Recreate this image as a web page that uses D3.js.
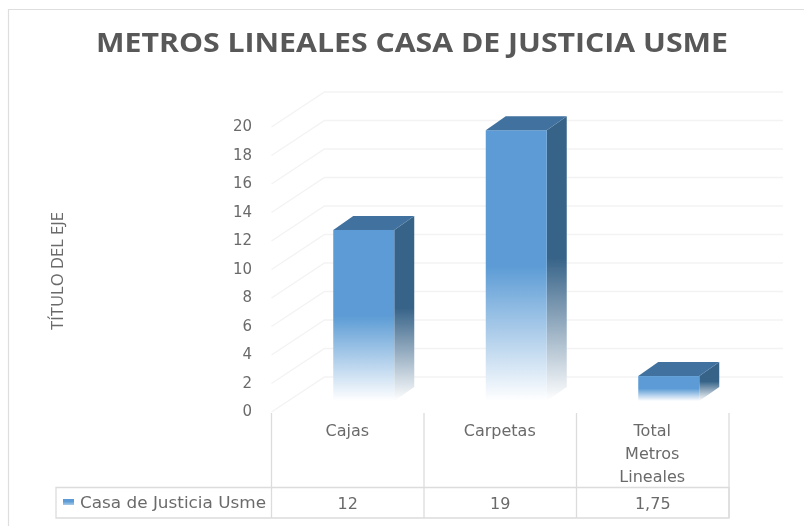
<!DOCTYPE html>
<html><head><meta charset="utf-8">
<script src="https://cdn.jsdelivr.net/npm/d3@7"></script>
<style>html,body{margin:0;background:#fff}svg{display:block}</style>
</head><body><svg id="c" width="804" height="526"></svg>
<script>
const chartTitle = "METROS LINEALES CASA DE JUSTICIA USME";
const axisTitle = "TÍTULO DEL EJE";
const seriesName = "Casa de Justicia Usme";
const categories = ["Cajas", "Carpetas", "Total Metros Lineales"];
const categoryLines = [["Cajas"], ["Carpetas"], ["Total", "Metros", "Lineales"]];
const values = [12, 19, 1.75];
const valueLabels = ["12", "19", "1,75"];
const yTicks = [0, 2, 4, 6, 8, 10, 12, 14, 16, 18, 20];

const svg = d3.select("#c");
const grey = "#6a6a6a", tableLine = "#dcdcdc", gridLine = "#f3f3f3";
const x = d3.scaleBand().domain(categories).range([271.5, 729]);
const y = d3.scaleLinear().domain([0, 20]).range([412, 127]);
const wallDx = 53, wallDy = -35;
const inDx = 16, inDy = -11, barDx = 20, barDy = -14;
const barFrac = 0.4;

const defs = svg.append("defs");
defs.append("filter").attr("id", "soft").attr("x", "-5%").attr("y", "-5%").attr("width", "110%").attr("height", "110%")
  .append("feGaussianBlur").attr("stdDeviation", 0.5);
function grad(id, c) {
  const g = defs.append("linearGradient").attr("id", id).attr("x1", 0).attr("y1", 0).attr("x2", 0).attr("y2", 1);
  g.append("stop").attr("offset", "50%").attr("stop-color", c);
  g.append("stop").attr("offset", "100%").attr("stop-color", "#fff");
}
grad("front", "#5b9bd5");
grad("side", "#386489");
const keyGrad = defs.append("linearGradient").attr("id", "key").attr("x1", 0).attr("y1", 0).attr("x2", 0).attr("y2", 1);
keyGrad.append("stop").attr("offset", "40%").attr("stop-color", "#5b9bd5");
keyGrad.append("stop").attr("offset", "100%").attr("stop-color", "#a8cbea");

const root = svg.append("g").attr("filter", "url(#soft)");

// outer frame
root.append("path").attr("d", "M8.5,526V9.5H804").attr("fill", "none").attr("stroke", "#dedede").attr("stroke-width", 1.2);

// titles
root.append("text").attr("x", 412).attr("y", 52).attr("text-anchor", "middle")
  .attr("font-family", "Open Sans").attr("font-weight", 700).attr("font-size", 27)
  .attr("textLength", 632).attr("lengthAdjust", "spacingAndGlyphs").attr("fill", "#595959").text(chartTitle);
root.append("text").attr("transform", "translate(63,271) rotate(-90)").attr("text-anchor", "middle")
  .attr("font-family", "Open Sans").attr("font-size", 16).attr("textLength", 118).attr("lengthAdjust", "spacingAndGlyphs")
  .attr("fill", grey).text(axisTitle);

// gridlines on side wall and back wall
const grid = root.append("g").attr("fill", "none").attr("stroke", gridLine).attr("stroke-width", 1.4);
grid.selectAll("path").data(yTicks).join("path")
  .attr("d", d => `M${x.range()[0]},${y(d)}L${x.range()[0] + wallDx},${y(d) + wallDy}H783`);

// value axis labels
const yAxis = root.append("g").attr("transform", "translate(256,-1)")
  .call(d3.axisLeft(y).tickValues(yTicks).tickSize(0).tickPadding(4));
yAxis.select(".domain").remove();
yAxis.selectAll("text").attr("font-family", "DejaVu Sans").attr("font-size", 15).attr("fill", grey);

// bars
const bw = x.bandwidth() * barFrac;
const bars = root.append("g").selectAll("g").data(categories).join("g");
const fx = c => x(c) + x.bandwidth() / 2 - bw / 2 + inDx;
const baseY = y(0) + inDy;
const topY = (c, i) => y(values[i]) + inDy;
bars.append("polygon").attr("fill", "url(#side)")
  .attr("points", (c, i) => [[fx(c) + bw, topY(c, i)], [fx(c) + bw + barDx, topY(c, i) + barDy], [fx(c) + bw + barDx, baseY + barDy], [fx(c) + bw, baseY]].join(" "));
bars.append("rect").attr("fill", "url(#front)")
  .attr("x", fx).attr("width", bw).attr("y", topY).attr("height", (c, i) => baseY - topY(c, i));
bars.append("polygon").attr("fill", "#41719f")
  .attr("points", (c, i) => [[fx(c), topY(c, i)], [fx(c) + barDx, topY(c, i) + barDy], [fx(c) + bw + barDx, topY(c, i) + barDy], [fx(c) + bw, topY(c, i)]].join(" "));

// data table
const tTop = 487.5, tBot = 518, tLeft = 56, vTop = 413;
const table = root.append("g").attr("fill", "none").attr("stroke", tableLine).attr("stroke-width", 1.3);
table.append("path").attr("d", `M${tLeft},${tTop}H729V${tBot}H${tLeft}Z`);
table.selectAll("line").data([...categories.map(c => x(c)), x.range()[1]]).join("line")
  .attr("x1", d => d).attr("x2", d => d).attr("y1", vTop).attr("y2", tBot);

const txt = root.append("g").attr("font-family", "DejaVu Sans").attr("font-size", 16).attr("fill", grey).attr("text-anchor", "middle");
const catG = txt.selectAll("text.cat").data(categories).join("text").attr("class", "cat");
catG.selectAll("tspan").data((c, i) => categoryLines[i].map(l => ({ l, c }))).join("tspan")
  .attr("x", d => x(d.c) + x.bandwidth() / 2 - 0.5)
  .attr("y", (d, j) => 436 + j * 23).text(d => d.l);
txt.selectAll("text.val").data(categories).join("text").attr("class", "val")
  .attr("x", c => x(c) + x.bandwidth() / 2).attr("y", 509).text((c, i) => valueLabels[i]);

// legend key
root.append("rect").attr("x", 63).attr("y", 499).attr("width", 11).attr("height", 6).attr("fill", "url(#key)");
root.append("text").attr("x", 80).attr("y", 508).attr("font-family", "DejaVu Sans").attr("font-size", 16)
  .attr("textLength", 186).attr("lengthAdjust", "spacingAndGlyphs").attr("fill", grey).text(seriesName);
</script></body></html>
